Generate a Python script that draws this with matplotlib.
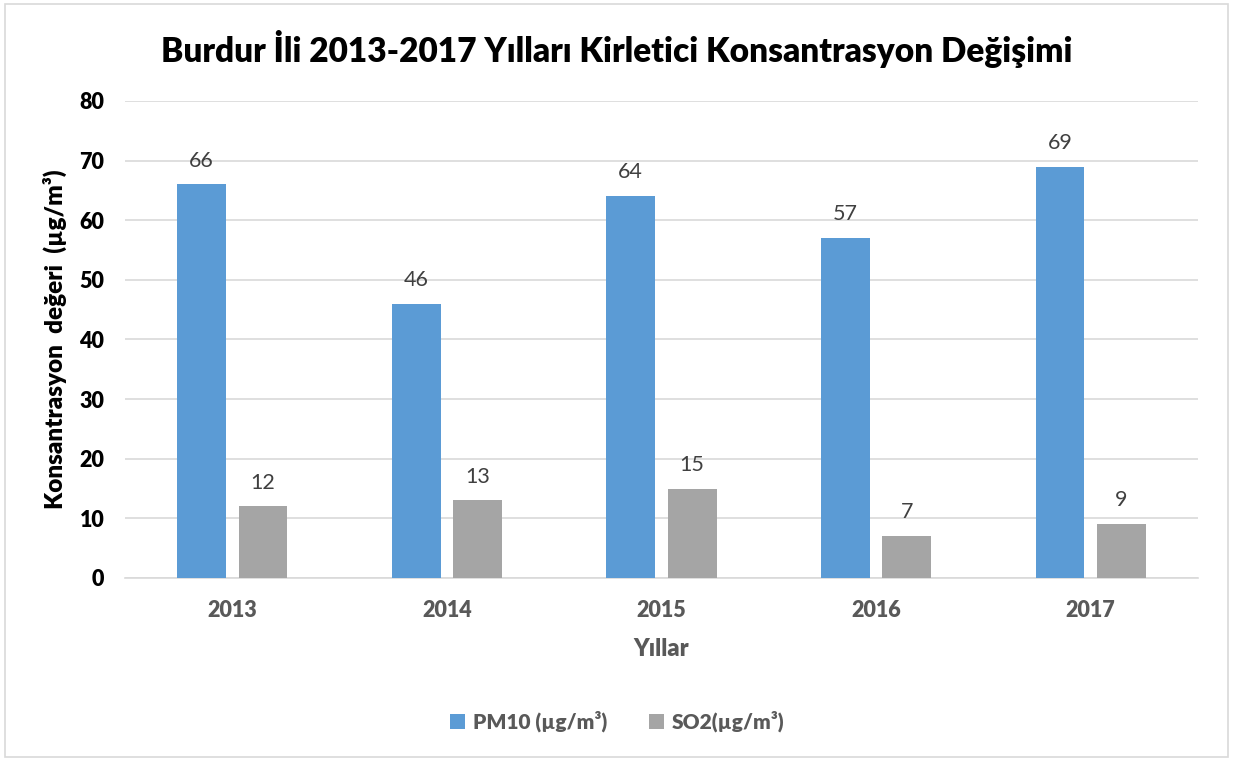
import numpy as np
import matplotlib.pyplot as plt
from matplotlib.patches import Rectangle

plt.rcParams['font.family'] = ['Lato', 'DejaVu Sans']

# Data
years = ['2013', '2014', '2015', '2016', '2017']
pm10 = [66, 46, 64, 57, 69]
so2 = [12, 13, 15, 7, 9]

blue = '#5B9BD5'
grey = '#A5A5A5'
text_grey = '#595959'
heavy = 'heavy'

fig = plt.figure(figsize=(12.34, 7.61), dpi=100)
ax = fig.add_axes([0.1013, 0.2405, 0.8695, 0.6268])

# Light border around the whole chart
fig.patches.append(Rectangle((0.004, 0.005), 0.991, 0.99, transform=fig.transFigure,
                             fill=False, edgecolor='#D9D9D9', linewidth=1.2))

x = np.arange(len(years))
w = 0.228
b1 = ax.bar(x - 0.143, pm10, w, color=blue, label='PM10 (µg/m³)', zorder=3)
b2 = ax.bar(x + 0.143, so2, w, color=grey, label='SO2(µg/m³)', zorder=3)

for bars in (b1, b2):
    ax.bar_label(bars, padding=10, fontsize=15.5, color='#404040')

ax.set_xlim(-0.5, 4.5)
ax.set_ylim(0, 80)
ax.set_yticks(range(0, 81, 10))
ax.yaxis.grid(True, color='#D9D9D9', linewidth=1.2, zorder=0)
ax.set_axisbelow(True)
for s in ['top', 'right', 'left']:
    ax.spines[s].set_visible(False)
ax.spines['bottom'].set_color('#D9D9D9')
ax.spines['bottom'].set_linewidth(1.2)
ax.tick_params(axis='both', length=0)
ax.tick_params(axis='y', pad=15)
ax.tick_params(axis='x', pad=16)

ax.set_xticks(x)
ax.set_xticklabels(years, fontsize=15.5, fontweight=heavy, color=text_grey)
for lbl in ax.get_yticklabels():
    lbl.set_fontsize(15.5)
    lbl.set_fontweight(heavy)
    lbl.set_color('black')

ax.set_xlabel('Yıllar', fontsize=17, fontweight=heavy, color=text_grey, labelpad=12)
ax.set_ylabel('Konsantrasyon  değeri  (µg/m³)', fontsize=17.5, fontweight=heavy,
              color='black', labelpad=9)

fig.text(0.5, 0.935, 'Burdur İli 2013-2017 Yılları Kirletici Konsantrasyon Değişimi',
         ha='center', va='center', fontsize=24, fontweight=heavy, color='black')

leg = fig.legend(handles=[b1, b2], loc='center', bbox_to_anchor=(0.5, 0.052), ncol=2,
                 frameon=False, fontsize=15, handlelength=0.75, handleheight=0.75,
                 handletextpad=0.35, columnspacing=2.0)
for t in leg.get_texts():
    t.set_color(text_grey)
    t.set_fontweight(heavy)

fig.savefig('out.png', dpi=100)
